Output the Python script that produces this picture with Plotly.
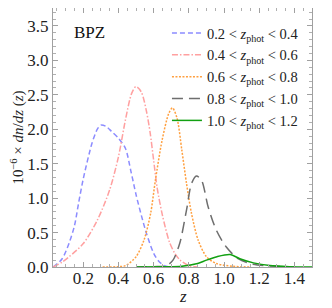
import plotly.graph_objects as go

# ---- data ----
z_b1 = [0.03, 0.08, 0.12, 0.15, 0.175, 0.2, 0.25, 0.28, 0.30, 0.33, 0.36, 0.40, 0.44, 0.47, 0.50, 0.53, 0.56, 0.60, 0.63, 0.67, 0.70]
n_b1 = [0.0, 0.12, 0.35, 0.6, 0.95, 1.28, 1.8, 2.0, 2.06, 2.04, 1.97, 1.87, 1.72, 1.4, 1.05, 0.75, 0.48, 0.2, 0.08, 0.01, 0.0]

z_b2 = [0.03, 0.08, 0.12, 0.2, 0.28, 0.35, 0.40, 0.44, 0.475, 0.50, 0.53, 0.56, 0.58, 0.60, 0.62, 0.65, 0.69, 0.72, 0.75, 0.80, 0.85]
n_b2 = [0.0, 0.07, 0.15, 0.34, 0.68, 1.12, 1.6, 2.14, 2.52, 2.62, 2.54, 2.25, 1.95, 1.55, 1.15, 0.75, 0.36, 0.2, 0.1, 0.02, 0.0]

z_b3 = [0.31, 0.40, 0.44, 0.50, 0.545, 0.583, 0.61, 0.648, 0.686, 0.707, 0.733, 0.76, 0.787, 0.815, 0.853, 0.90, 0.957, 1.05, 1.15]
n_b3 = [0.0, 0.005, 0.02, 0.15, 0.39, 0.78, 1.26, 1.84, 2.23, 2.31, 2.16, 1.70, 1.21, 0.78, 0.39, 0.15, 0.05, 0.01, 0.0]

z_b4 = [0.50, 0.60, 0.673, 0.71, 0.748, 0.787, 0.815, 0.843, 0.872, 0.91, 0.957, 1.013, 1.08, 1.165, 1.30, 1.40]
n_b4 = [0.0, 0.005, 0.02, 0.1, 0.34, 0.83, 1.21, 1.32, 1.26, 0.87, 0.53, 0.29, 0.12, 0.04, 0.01, 0.0]

z_b5 = [0.50, 0.65, 0.76, 0.85, 0.90, 0.96, 1.035, 1.09, 1.167, 1.26, 1.37, 1.50]
n_b5 = [0.0, 0.003, 0.01, 0.05, 0.1, 0.15, 0.18, 0.12, 0.06, 0.02, 0.005, 0.0]

labels = [
    "0.2 &lt; <i>z</i><sub>phot</sub> &lt; 0.4",
    "0.4 &lt; <i>z</i><sub>phot</sub> &lt; 0.6",
    "0.6 &lt; <i>z</i><sub>phot</sub> &lt; 0.8",
    "0.8 &lt; <i>z</i><sub>phot</sub> &lt; 1.0",
    "1.0 &lt; <i>z</i><sub>phot</sub> &lt; 1.2",
]
x_ticks = [0.2, 0.4, 0.6, 0.8, 1.0, 1.2, 1.4]
y_ticks = [0.0, 0.5, 1.0, 1.5, 2.0, 2.5, 3.0, 3.5]

series = [(z_b1, n_b1), (z_b2, n_b2), (z_b3, n_b3), (z_b4, n_b4), (z_b5, n_b5)]
colors = ["#8c8cff", "#ffa0a0", "#ffa040", "#6e6e6e", "#12a012"]
dashes = ["5px,3px", "6px,2px,1.5px,2px", "2px,1.5px", "11px,6px", "solid"]

FONT = "Liberation Serif"

fig = go.Figure()
for (zz, nn), lab, c, d in zip(series, labels, colors, dashes):
    fig.add_trace(go.Scatter(x=zz, y=nn, mode="lines", name=lab,
                             line=dict(color=c, width=1.5, dash=d, shape="spline", smoothing=0.8)))

axis_common = dict(showline=True, linecolor="#a0a0a0", linewidth=1, mirror="allticks",
                   ticks="inside", ticklen=5, tickcolor="#a0a0a0", tickwidth=1,
                   showgrid=False, zeroline=False, automargin=False,
                   tickfont=dict(family=FONT, size=17, color="#222"))

fig.update_xaxes(range=[0.028, 1.5], tickvals=x_ticks, ticktext=[f"{v:.1f}" for v in x_ticks],
                 minor=dict(dtick=0.05, tick0=0, ticks="inside", ticklen=3, tickcolor="#b0b0b0"),
                 ticklabelstandoff=-4,
                 **axis_common)
fig.update_yaxes(range=[0, 3.76], tickvals=y_ticks, ticktext=[f"{v:.1f}" for v in y_ticks],
                 minor=dict(dtick=0.1, tick0=0, ticks="inside", ticklen=3, tickcolor="#b0b0b0"),
                 title=dict(text="10<sup>\u22126</sup> \u00d7 <i>dn</i>/<i>dz</i> (<i>z</i>)",
                            font=dict(family=FONT, size=15, color="#222"), standoff=3),
                 **axis_common)

fig.add_annotation(x=0.5, y=-0.112, xref="paper", yref="paper", text="<i>z</i>", showarrow=False,
                   xanchor="center", yanchor="middle", font=dict(family=FONT, size=17, color="#222"))

fig.add_annotation(x=0.075, y=0.905, xref="paper", yref="paper", text="BPZ", showarrow=False,
                   xanchor="left", yanchor="middle", font=dict(family=FONT, size=17, color="#111"))

# the page body adds an 8px offset, so the figure is 8px smaller and margins shifted
fig.update_layout(
    width=324, height=300,
    margin=dict(l=45, r=20, t=0, b=41),
    plot_bgcolor="white", paper_bgcolor="white",
    showlegend=True,
    legend=dict(x=0.44, y=0.965, xanchor="left", yanchor="top", bgcolor="rgba(0,0,0,0)",
                font=dict(family=FONT, size=14.5, color="#222"), itemwidth=30,
                tracegroupgap=0),
)

fig.write_html("out.html")
